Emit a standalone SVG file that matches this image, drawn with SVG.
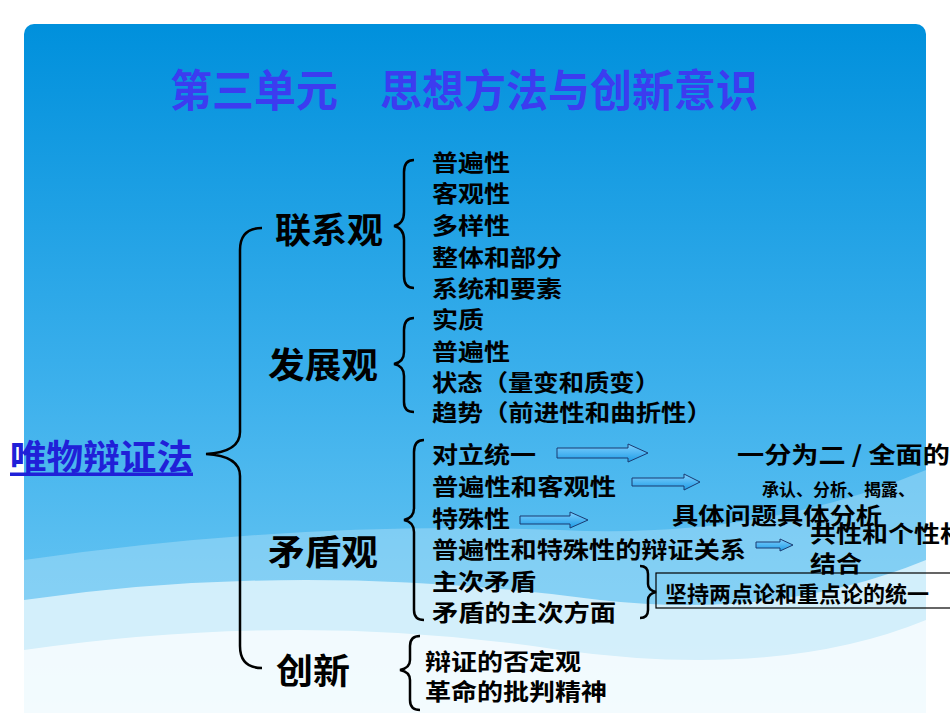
<svg xmlns="http://www.w3.org/2000/svg" width="950" height="713" viewBox="0 0 950 713">
<defs>
<linearGradient id="bg" x1="0" y1="0" x2="0" y2="1">
<stop offset="0" stop-color="#0090dc"/>
<stop offset="0.5" stop-color="#3cb0ec"/>
<stop offset="1" stop-color="#7dd0f6"/>
</linearGradient>
<linearGradient id="ar" x1="0" y1="0" x2="0" y2="1">
<stop offset="0" stop-color="#7fd0ff"/>
<stop offset="1" stop-color="#1e9ce6"/>
</linearGradient>
<style>
text{font-family:"Noto Sans CJK SC","Liberation Sans",sans-serif;font-weight:bold;fill:#000;dominant-baseline:central}
.it{font-size:23px}
.hd{font-size:35px}
.br{fill:none;stroke:#000;stroke-width:2.5}
.arw{fill:url(#ar);stroke:#1a3a70;stroke-width:1}
</style>
</defs>
<rect width="950" height="713" fill="#fff"/>
<rect x="24" y="24" width="902" height="720" rx="10" fill="url(#bg)"/>
<path d="M24 560 Q300 520 560 530 Q760 540 926 470 L926 713 L24 713 Z" fill="#a8def8" opacity="0.5"/>
<path d="M24 600 Q300 560 600 600 Q780 620 926 560 L926 713 L24 713 Z" fill="#e6f6fd" opacity="0.8"/>
<path d="M24 650 Q300 610 560 650 Q780 680 926 620 L926 713 L24 713 Z" fill="#fff" opacity="0.7"/>
<text x="170" y="88" textLength="588" lengthAdjust="spacingAndGlyphs" style="font-size:44px;fill:#3c3cf0">第三单元　思想方法与创新意识</text>

<g id="root"><text x="10" y="454" class="hd" textLength="183" lengthAdjust="spacingAndGlyphs" style="fill:#2020d8;text-decoration:underline">唯物辩证法</text></g>

<g id="connectors">
<path class="br" d="M262 228 Q240 228 240 250 L240 432 Q240 452 206 454 Q240 456 240 476 L240 646 Q240 668 262 668"/>
<path class="br" d="M414 160 Q404 160 404 172 L404 212 Q404 224 394 226 Q404 228 404 240 L404 276 Q404 288 414 288"/>
<path class="br" d="M414 318 Q404 318 404 330 L404 352 Q404 362 394 364 Q404 366 404 376 L404 402 Q404 412 414 412"/>
<path class="br" d="M424 440 Q414 440 414 452 L414 508 Q414 518 404 520 Q414 522 414 532 L414 610 Q414 620 424 620"/>
<path class="br" d="M420 636 Q410 636 410 646 L410 660 Q410 668 400 670 Q410 672 410 680 L410 700 Q410 710 420 710"/>
<path class="br" d="M640 566 Q648 566 648 574 L648 584 Q648 590 656 592 Q648 594 648 600 L648 610 Q648 618 640 618" stroke-width="2"/>
<path class="arw" d="M557 448 L628 448 L628 444 L648 453 L628 462 L628 458 L557 458 Z"/>
<path class="arw" d="M632 478 L684 478 L684 474 L700 482 L684 490 L684 486 L632 486 Z"/>
<path class="arw" d="M520 516 L570 516 L570 512 L588 520 L570 528 L570 524 L520 524 Z"/>
<path class="arw" d="M756 542 L780 542 L780 539 L793 545 L780 551 L780 548 L756 548 Z"/>
</g>

<g id="n-lianxi"><text x="275" y="227" class="hd" textLength="108" lengthAdjust="spacingAndGlyphs">联系观</text>
<text x="432" y="161" class="it" textLength="78" lengthAdjust="spacingAndGlyphs">普遍性</text><text x="432" y="192" class="it" textLength="78" lengthAdjust="spacingAndGlyphs">客观性</text><text x="432" y="224" class="it" textLength="78" lengthAdjust="spacingAndGlyphs">多样性</text><text x="432" y="256" class="it" textLength="130" lengthAdjust="spacingAndGlyphs">整体和部分</text><text x="432" y="287" class="it" textLength="130" lengthAdjust="spacingAndGlyphs">系统和要素</text></g>

<g id="n-fazhan"><text x="268" y="362" class="hd" textLength="110" lengthAdjust="spacingAndGlyphs">发展观</text>
<text x="432" y="318" class="it" textLength="52" lengthAdjust="spacingAndGlyphs">实质</text><text x="432" y="350" class="it" textLength="78" lengthAdjust="spacingAndGlyphs">普遍性</text><text x="432" y="381" class="it" textLength="228" lengthAdjust="spacingAndGlyphs">状态（量变和质变）</text><text x="432" y="411" class="it" textLength="280" lengthAdjust="spacingAndGlyphs">趋势（前进性和曲折性）</text></g>

<g id="n-maodun"><text x="268" y="549" class="hd" textLength="110" lengthAdjust="spacingAndGlyphs">矛盾观</text>
<text x="432" y="453" class="it" textLength="104" lengthAdjust="spacingAndGlyphs">对立统一</text><text x="432" y="485" class="it" textLength="184" lengthAdjust="spacingAndGlyphs">普遍性和客观性</text><text x="432" y="517" class="it" textLength="78" lengthAdjust="spacingAndGlyphs">特殊性</text><text x="432" y="548" class="it" textLength="314" lengthAdjust="spacingAndGlyphs">普遍性和特殊性的辩证关系</text><text x="432" y="580" class="it" textLength="104" lengthAdjust="spacingAndGlyphs">主次矛盾</text><text x="432" y="611" class="it" textLength="184" lengthAdjust="spacingAndGlyphs">矛盾的主次方面</text></g>

<g id="n-r1"><text x="737" y="453" class="it" textLength="240" lengthAdjust="spacingAndGlyphs">一分为二 / 全面的观</text></g>
<g id="n-r2"><text x="762" y="488" style="font-size:17px">承认、分析、揭露、</text></g>
<g id="n-r3"><text x="672" y="514" class="it" textLength="210" lengthAdjust="spacingAndGlyphs">具体问题具体分析</text></g>
<g id="n-r4"><text x="810" y="532" class="it" textLength="156" lengthAdjust="spacingAndGlyphs">共性和个性相</text><text x="810" y="562" class="it" textLength="52" lengthAdjust="spacingAndGlyphs">结合</text></g>
<g id="n-r5"><rect x="656" y="573" width="300" height="35" fill="none" stroke="#000" stroke-width="1.2"/><text x="665" y="592" style="font-size:22px">坚持两点论和重点论的统一</text></g>

<g id="n-chuangxin"><text x="276" y="668" class="hd" textLength="74" lengthAdjust="spacingAndGlyphs">创新</text>
<text x="425" y="660" class="it" textLength="156" lengthAdjust="spacingAndGlyphs">辩证的否定观</text><text x="425" y="690" class="it" textLength="182" lengthAdjust="spacingAndGlyphs">革命的批判精神</text></g>
</svg>
